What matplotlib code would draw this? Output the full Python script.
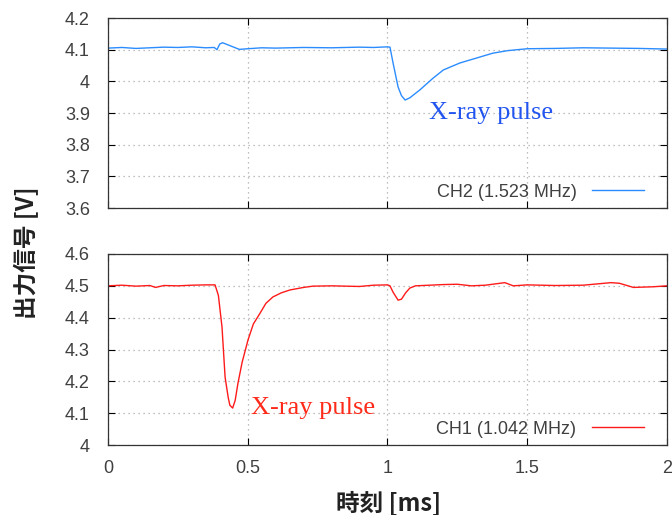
import numpy as np
import matplotlib
matplotlib.use("Agg")
import matplotlib.pyplot as plt
import matplotlib.ticker as ticker

# ── Trace data ──────────────────────────────────────────────────────────────
ch2_t = [0.00, 0.05, 0.10, 0.15, 0.20, 0.25, 0.30, 0.35, 0.38, 0.39, 0.40,
         0.41, 0.43, 0.45, 0.47, 0.50, 0.55, 0.60, 0.70, 0.80, 0.90, 0.95,
         1.00, 1.009, 1.02, 1.038, 1.05, 1.063, 1.08, 1.10, 1.116, 1.14,
         1.163, 1.20, 1.259, 1.32, 1.377, 1.43, 1.50, 1.60, 1.70, 1.80,
         1.90, 2.00]
ch2_v = [4.105, 4.107, 4.104, 4.106, 4.108, 4.107, 4.109, 4.106, 4.107,
         4.100, 4.118, 4.122, 4.115, 4.108, 4.101, 4.103, 4.106, 4.105,
         4.107, 4.106, 4.108, 4.107, 4.109, 4.108, 4.058, 3.982, 3.955,
         3.941, 3.948, 3.962, 3.973, 3.992, 4.010, 4.036, 4.058, 4.074,
         4.089, 4.097, 4.103, 4.104, 4.106, 4.105, 4.104, 4.102]

ch1_t = [0.00, 0.05, 0.10, 0.15, 0.17, 0.20, 0.25, 0.30, 0.35, 0.383,
         0.395, 0.408, 0.419, 0.43, 0.436, 0.446, 0.455, 0.465, 0.48, 0.501,
         0.52, 0.544, 0.565, 0.59, 0.62, 0.651, 0.70, 0.733, 0.80, 0.90,
         0.95, 1.00, 1.009, 1.02, 1.038, 1.05, 1.065, 1.08, 1.10, 1.20,
         1.25, 1.30, 1.35, 1.42, 1.45, 1.50, 1.60, 1.70, 1.80, 1.83, 1.88,
         1.95, 2.00]
ch1_v = [4.500, 4.502, 4.499, 4.501, 4.495, 4.501, 4.500, 4.502, 4.503,
         4.503, 4.470, 4.370, 4.213, 4.150, 4.125, 4.116, 4.140, 4.194,
         4.260, 4.330, 4.380, 4.414, 4.445, 4.465, 4.478, 4.487, 4.495,
         4.499, 4.500, 4.498, 4.502, 4.503, 4.500, 4.480, 4.455, 4.458,
         4.478, 4.493, 4.500, 4.504, 4.505, 4.500, 4.502, 4.510, 4.500,
         4.503, 4.501, 4.502, 4.510, 4.508, 4.495, 4.497, 4.500]

x_ticks = [0, 0.5, 1, 1.5, 2]
ch2_yticks = [3.6, 3.7, 3.8, 3.9, 4.0, 4.1, 4.2]
ch1_yticks = [4.0, 4.1, 4.2, 4.3, 4.4, 4.5, 4.6]

BLUE_LINE = "#2b8cff"
BLUE_TEXT = "#2255f0"
RED_LINE = "#ff1a1a"
RED_TEXT = "#ff2a1a"
TICK_GRAY = "#404040"

plt.rcParams["font.family"] = ["Liberation Sans", "DejaVu Sans"]

fig = plt.figure(figsize=(6.72, 5.15), dpi=100)
ax_top = fig.add_axes([0.1607, 0.5961, 0.8318, 0.3689])
ax_bot = fig.add_axes([0.1607, 0.1359, 0.8318, 0.3709])


def style_axes(ax, yticks, show_x):
    ax.set_xlim(0, 2)
    ax.set_ylim(yticks[0], yticks[-1])
    ax.set_xticks(x_ticks)
    ax.set_yticks(yticks)
    ax.xaxis.set_major_formatter(ticker.FormatStrFormatter("%g"))
    ax.yaxis.set_major_formatter(ticker.FormatStrFormatter("%g"))
    ax.tick_params(direction="in", top=True, right=True, length=5,
                   width=0.8, labelsize=13, labelcolor=TICK_GRAY)
    ax.tick_params(axis="y", pad=13)
    ax.tick_params(axis="x", pad=11)
    if not show_x:
        ax.tick_params(labelbottom=False)
    ax.grid(True, color="#aaaaaa", linestyle=(0, (1, 3)), linewidth=0.9)
    for sp in ax.spines.values():
        sp.set_color("#333333")
        sp.set_linewidth(0.9)


def add_legend(ax):
    ax.legend(loc="lower right", markerfirst=False, frameon=False,
              handlelength=2.9, handletextpad=0.85, fontsize=13,
              labelcolor=TICK_GRAY, borderaxespad=0.0,
              bbox_to_anchor=(0.972, 0.0))


ax_top.plot(ch2_t, ch2_v, color=BLUE_LINE, lw=1.0, label="CH2 (1.523 MHz)")
style_axes(ax_top, ch2_yticks, False)
ax_top.text(1.15, 3.90, "X-ray pulse", color=BLUE_TEXT, fontsize=19,
            family="Liberation Serif", va="center", ha="left")
add_legend(ax_top)

ax_bot.plot(ch1_t, ch1_v, color=RED_LINE, lw=1.0, label="CH1 (1.042 MHz)")
style_axes(ax_bot, ch1_yticks, True)
ax_bot.text(0.51, 4.115, "X-ray pulse", color=RED_TEXT, fontsize=19,
            family="Liberation Serif", va="center", ha="left")
add_legend(ax_bot)

fig.text(0.5775, 0.025, "時刻 [ms]", ha="center", va="center",
         fontsize=17, fontweight="bold",
         family=["Noto Sans CJK JP", "DejaVu Sans"], color="#222222")
fig.text(0.040, 0.510, "出力信号 [V]", ha="center", va="center",
         rotation=90, fontsize=17, fontweight="bold",
         family=["Noto Sans CJK JP", "DejaVu Sans"], color="#222222")

fig.savefig("out.png", dpi=100)
